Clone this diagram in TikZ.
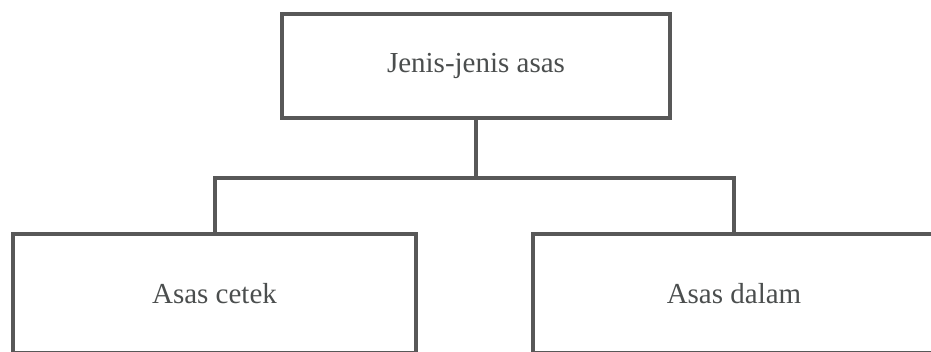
\documentclass[tikz,border=0pt]{standalone}
\usepackage{fontspec}
\setmainfont{Liberation Serif}
\definecolor{lc}{RGB}{88,88,88}
\definecolor{tc}{RGB}{75,78,78}
\begin{document}
\begin{tikzpicture}[
  box/.style={draw=lc, line width=4pt, rectangle, inner sep=0pt, text=tc,
    font=\fontsize{29}{34}\selectfont},
  conn/.style={draw=lc, line width=4pt}
]
\useasboundingbox (0pt,0pt) rectangle (931pt,-351pt);
\clip (0pt,0pt) rectangle (931pt,-351pt);
\node[box, minimum width=388pt, minimum height=104pt] (top) at (476pt,-66pt) {Jenis-jenis asas};
\node[box, minimum width=403pt, minimum height=119pt] (left) at (214.5pt,-293.5pt) {Asas cetek};
\node[box, minimum width=402pt, minimum height=119pt] (right) at (734pt,-293.5pt) {Asas dalam};
\draw[conn] (top.south) -- ++(0,-58pt) coordinate (j);
\draw[conn] (left.north) |- (j) -| (right.north);
\end{tikzpicture}
\end{document}
